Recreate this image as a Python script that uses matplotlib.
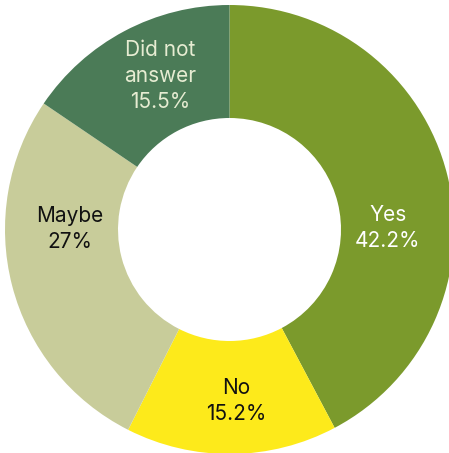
import matplotlib
matplotlib.use("Agg")
from matplotlib import pyplot as plt

labels = ["Yes", "No", "Maybe", "Did not\nanswer"]
shares = [42.2, 15.2, 27.0, 15.5]
colors = ["#7b9a2c", "#fdea1b", "#c8cc9a", "#4b7b57"]
text_colors = ["#ffffff", "#111111", "#111111", "#e6ecd2"]
# label anchor points in pixel space (x, y from top)
label_pos = [(388, 228), (236, 401), (70, 229), (160, 76)]

W, H = 449, 453
fig = plt.figure(figsize=(W / 100, H / 100), dpi=100)
ax = fig.add_axes([0, 0, 1, 1])

cx, cy = 229.5, H - 229.5
outer = 224.5
inner = 111.5
ax.pie(shares, colors=colors, startangle=90, counterclock=False,
       radius=outer, center=(cx, cy),
       wedgeprops=dict(width=outer - inner, linewidth=0))

# pie() resets the limits, so set them afterwards
ax.set_xlim(0, W)
ax.set_ylim(0, H)
ax.set_aspect("equal")
ax.axis("off")

for lab, val, c, (x, y) in zip(labels, shares, text_colors, label_pos):
    ax.text(x, H - y, f"{lab}\n{val:g}%", ha="center", va="center",
            color=c, fontsize=15, family="Inter", linespacing=1.35)

fig.savefig("out.png", dpi=100)
